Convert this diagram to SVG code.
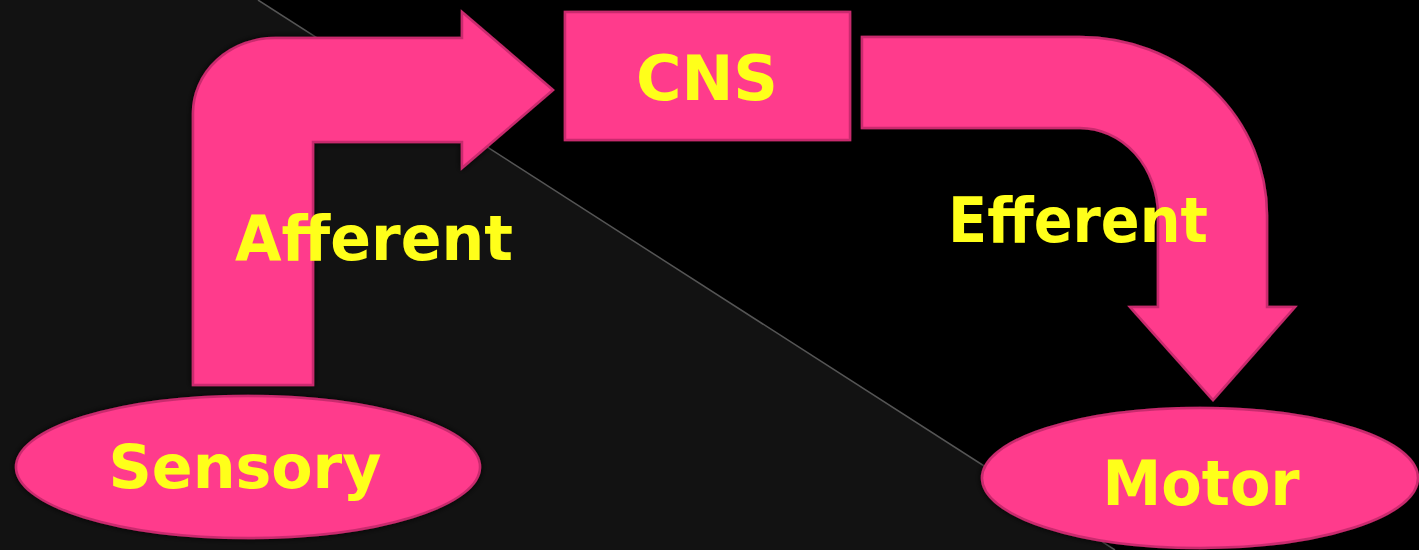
<svg xmlns="http://www.w3.org/2000/svg" width="1419" height="550" viewBox="0 0 1419 550">
  <style>
    .shape { fill: #FF3A8C; stroke: #C92C6E; stroke-width: 2.5; stroke-linejoin: miter; filter: url(#glow); }
    .label { font-family: "DejaVu Sans", "Liberation Sans", sans-serif; font-weight: bold; fill: #FFFF1A; text-anchor: middle; }
  </style>
  <defs>
    <filter id="glow" x="-10%" y="-10%" width="120%" height="120%">
      <feDropShadow dx="0" dy="0" stdDeviation="3" flood-color="#000" flood-opacity="0.9"/>
    </filter>
  </defs>

  <!-- background -->
  <rect x="0" y="0" width="1419" height="550" fill="#000"/>
  <polygon points="0,0 258,0 1115,550 0,550" fill="#121212"/>
  <line x1="258" y1="0" x2="1115" y2="550" stroke="#555" stroke-width="1.5"/>

  <g id="connectors">
    <g id="afferent">
      <path class="shape" d="M193 385 L193 113 A82 75 0 0 1 275 38 L462 38 L462 12 L553 90 L462 168 L462 142 L313 142 L313 385 Z"/>
      <text class="label" x="374" y="260" font-size="63" textLength="278" lengthAdjust="spacingAndGlyphs">Afferent</text>
    </g>
    <g id="efferent">
      <path class="shape" d="M862 37 L1080 37 A187 178 0 0 1 1267 215 L1267 307 L1295 307 L1213 400 L1130 307 L1158 307 L1158 215 A78 87 0 0 0 1080 128 L862 128 Z"/>
      <text class="label" x="1078" y="242" font-size="62" textLength="260" lengthAdjust="spacingAndGlyphs">Efferent</text>
    </g>
  </g>

  <g id="cns">
    <rect class="shape" x="565" y="12" width="285" height="128"/>
    <text class="label" x="707" y="100" font-size="62" textLength="142" lengthAdjust="spacingAndGlyphs">CNS</text>
  </g>

  <g id="sensory">
    <ellipse class="shape" cx="248" cy="467" rx="232" ry="71"/>
    <text class="label" x="245" y="488" font-size="60" textLength="273" lengthAdjust="spacingAndGlyphs">Sensory</text>
  </g>

  <g id="motor">
    <ellipse class="shape" cx="1200" cy="478" rx="218" ry="70"/>
    <text class="label" x="1201" y="505" font-size="62" textLength="197" lengthAdjust="spacingAndGlyphs">Motor</text>
  </g>
</svg>
